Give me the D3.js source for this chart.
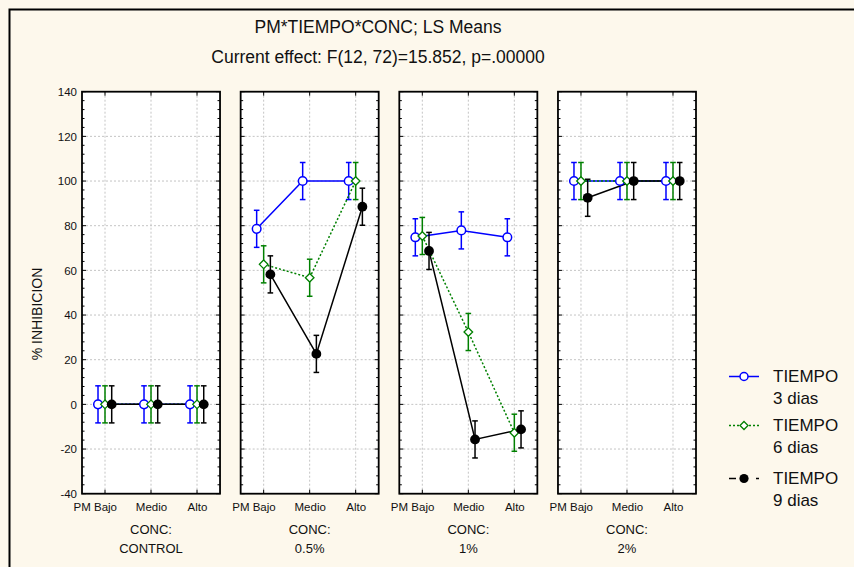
<!DOCTYPE html>
<html><head><meta charset="utf-8">
<script src="https://cdn.jsdelivr.net/npm/d3@7"></script>
<style>html,body{margin:0;padding:0;background:#fdf8ec;}svg{display:block;font-family:Arial,"Liberation Sans",sans-serif;}</style>
</head><body>
<script>
const titleLines = ["PM*TIEMPO*CONC; LS Means", "Current effect: F(12, 72)=15.852, p=.00000"];
const factorName = "PM";
const categories = ["Bajo", "Medio", "Alto"];
const concs = ["CONTROL", "0.5%", "1%", "2%"];
const seriesNames = ["3 dias", "6 dias", "9 dias"];
const dias3 = [[0, 0, 0], [78.6, 100, 100], [74.8, 77.9, 74.8], [100, 100, 100]];
const dias6 = [[0, 0, 0], [62.7, 56.7, 100], [75.4, 32.4, -12.7], [100, 100, 100]];
const dias9 = [[0, 0, 0], [58.2, 22.6, 88.5], [68.7, -15.7, -11.2], [92.5, 100, 100]];
const errHalf = [8.3, 8.3, 8.3];
const yTicks = [-40, -20, 0, 20, 40, 60, 80, 100, 120, 140];
const yLabel = "% INHIBICION";
const concLabel = "CONC:";
const legendTitle = "TIEMPO";

const W = 854, H = 567;
const svg = d3.select("body").append("svg").attr("width", W).attr("height", H);
svg.append("rect").attr("width", W).attr("height", H).attr("fill", "#fdf8ec");
svg.append("rect").attr("x", 9.5).attr("y", 9.5).attr("width", W).attr("height", H)
  .attr("fill", "none").attr("stroke", "#000").attr("stroke-width", 2);

svg.append("text").attr("x", 378).attr("y", 27).attr("text-anchor", "middle")
  .attr("dominant-baseline", "central").attr("font-size", 17.5).attr("fill", "#111").text(titleLines[0]);
svg.append("text").attr("x", 378).attr("y", 57).attr("text-anchor", "middle")
  .attr("dominant-baseline", "central").attr("font-size", 17.5).attr("fill", "#111").text(titleLines[1]);

const panelScale = d3.scaleBand().domain(concs).range([82, 696]).paddingInner(0.13).paddingOuter(0);
const y = d3.scaleLinear().domain([-40, 140]).range([493.7, 91.7]);
const yTop = y(140), yBot = y(-40);

const series = [
  {name: seriesNames[0], values: dias3, err: errHalf[0], color: "#0000ff", dash: null, marker: "circle", off: -7},
  {name: seriesNames[1], values: dias6, err: errHalf[1], color: "#008000", dash: "2,2", marker: "diamond", off: 0},
  {name: seriesNames[2], values: dias9, err: errHalf[2], color: "#000000", dash: null, marker: "dot", off: 6.7}
];

function drawMarker(g, kind, cx, cy, color, r) {
  if (kind === "circle") {
    g.append("circle").attr("cx", cx).attr("cy", cy).attr("r", r).attr("fill", "#fff")
      .attr("stroke", color).attr("stroke-width", 1.5);
  } else if (kind === "diamond") {
    const d = r;
    g.append("path").attr("d", `M${cx},${cy - d}L${cx + d},${cy}L${cx},${cy + d}L${cx - d},${cy}Z`)
      .attr("fill", "#fff").attr("stroke", color).attr("stroke-width", 1.3);
  } else {
    g.append("circle").attr("cx", cx).attr("cy", cy).attr("r", r + 0.6).attr("fill", color);
  }
}

concs.forEach((c, ci) => {
  const left = panelScale(c), bw = panelScale.bandwidth();
  const x = d3.scalePoint().domain(categories).range([left, left + bw]).padding(0.5);
  const g = svg.append("g");
  g.append("rect").attr("x", left).attr("y", yTop).attr("width", bw).attr("height", yBot - yTop).attr("fill", "#fff");
  g.selectAll(".hg").data(yTicks.slice(1, -1)).enter().append("line")
    .attr("x1", left).attr("x2", left + bw).attr("y1", d => y(d)).attr("y2", d => y(d))
    .attr("stroke", "#c4c4c4").attr("stroke-dasharray", "2,2");
  g.selectAll(".vg").data(categories).enter().append("line")
    .attr("x1", d => x(d)).attr("x2", d => x(d)).attr("y1", yTop).attr("y2", yBot)
    .attr("stroke", "#c4c4c4").attr("stroke-dasharray", "2,2");
  const minor = d3.range(-40, 141, 4);
  minor.forEach(v => {
    const major = yTicks.includes(v);
    const len = major ? 4 : 2.5;
    g.append("line").attr("x1", left).attr("x2", left + len).attr("y1", y(v)).attr("y2", y(v)).attr("stroke", "#000");
    g.append("line").attr("x1", left + bw).attr("x2", left + bw - len).attr("y1", y(v)).attr("y2", y(v)).attr("stroke", "#000");
  });
  categories.forEach(cat => {
    g.append("line").attr("x1", x(cat)).attr("x2", x(cat)).attr("y1", yTop).attr("y2", yTop + 4).attr("stroke", "#000");
    g.append("line").attr("x1", x(cat)).attr("x2", x(cat)).attr("y1", yBot).attr("y2", yBot - 4).attr("stroke", "#000");
  });
  series.forEach(s => {
    const pts = categories.map((cat, k) => [x(cat) + s.off, y(s.values[ci][k]), s.values[ci][k]]);
    g.append("path").attr("d", d3.line()(pts.map(p => [p[0], p[1]])))
      .attr("fill", "none").attr("stroke", s.color).attr("stroke-width", 1.5)
      .attr("stroke-dasharray", s.dash);
    pts.forEach(p => {
      const y1 = y(p[2] + s.err), y2 = y(p[2] - s.err);
      g.append("line").attr("x1", p[0]).attr("x2", p[0]).attr("y1", y1).attr("y2", y2).attr("stroke", s.color).attr("stroke-width", 1.5);
      g.append("line").attr("x1", p[0] - 2.8).attr("x2", p[0] + 2.8).attr("y1", y1).attr("y2", y1).attr("stroke", s.color).attr("stroke-width", 1.5);
      g.append("line").attr("x1", p[0] - 2.8).attr("x2", p[0] + 2.8).attr("y1", y2).attr("y2", y2).attr("stroke", s.color).attr("stroke-width", 1.5);
    });
  });
  series.forEach(s => {
    categories.forEach((cat, k) => drawMarker(g, s.marker, x(cat) + s.off, y(s.values[ci][k]), s.color, 4.3));
  });
  g.append("rect").attr("x", left).attr("y", yTop).attr("width", bw).attr("height", yBot - yTop)
    .attr("fill", "none").attr("stroke", "#000").attr("stroke-width", 1.8);
  const xa = g.append("g").attr("transform", `translate(0,${yBot})`)
    .call(d3.axisBottom(x).tickSize(0).tickPadding(0));
  xa.select(".domain").remove();
  xa.selectAll("text").attr("y", 13).attr("dy", "0.35em").attr("font-size", 11.5).attr("fill", "#111")
    .attr("font-family", "Arial, 'Liberation Sans', sans-serif");
  // prefix factor name to first tick label, keeping the level name centred on the tick
  const first = xa.select(".tick text");
  const levelW = first.node().getComputedTextLength();
  first.text(factorName + " " + categories[0]);
  const fullW = first.node().getComputedTextLength();
  first.attr("x", -(fullW - levelW) / 2);
  g.append("text").attr("x", left + bw / 2).attr("y", 529.5).attr("text-anchor", "middle")
    .attr("dominant-baseline", "central").attr("font-size", 13).attr("fill", "#111").text(concLabel);
  g.append("text").attr("x", left + bw / 2).attr("y", 548).attr("text-anchor", "middle")
    .attr("dominant-baseline", "central").attr("font-size", 13).attr("fill", "#111").text(c);
  if (ci === 0) {
    const ya = g.append("g").attr("transform", `translate(${left},0)`)
      .call(d3.axisLeft(y).tickValues(yTicks).tickFormat(d => String(d)).tickSize(0).tickPadding(5));
    ya.select(".domain").remove();
    ya.selectAll("text").attr("font-size", 11.5).attr("fill", "#111")
      .attr("font-family", "Arial, 'Liberation Sans', sans-serif");
  }
});

svg.append("text").attr("transform", "translate(37,314) rotate(-90)").attr("text-anchor", "middle")
  .attr("dominant-baseline", "central").attr("font-size", 14).attr("fill", "#111").text(yLabel);

const legY = [376.5, 425.5, 478.5];
series.forEach((s, i) => {
  const lg = svg.append("g");
  const cy = legY[i];
  if (s.marker === "dot") {
    lg.append("line").attr("x1", 729).attr("x2", 736).attr("y1", cy).attr("y2", cy).attr("stroke", s.color).attr("stroke-width", 1.5);
    lg.append("line").attr("x1", 756).attr("x2", 759).attr("y1", cy).attr("y2", cy).attr("stroke", s.color).attr("stroke-width", 1.5);
  } else {
    lg.append("line").attr("x1", 729).attr("x2", 759).attr("y1", cy).attr("y2", cy).attr("stroke", s.color)
      .attr("stroke-width", 1.5).attr("stroke-dasharray", s.dash);
  }
  drawMarker(lg, s.marker, 744, cy, s.color, 4);
  lg.append("text").attr("x", 773).attr("y", cy).attr("dominant-baseline", "central")
    .attr("font-size", 17).attr("fill", "#111").text(legendTitle);
  lg.append("text").attr("x", 773).attr("y", cy + 22).attr("dominant-baseline", "central")
    .attr("font-size", 17).attr("fill", "#111").text(s.name);
});
</script>
</body></html>
